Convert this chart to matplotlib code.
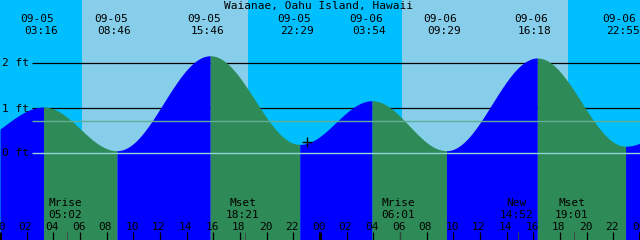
import numpy as np
import matplotlib
matplotlib.use("Agg")
import matplotlib.pyplot as plt
from matplotlib.transforms import blended_transform_factory

# ---------------- data ----------------
title = "Waianae, Oahu Island, Hawaii"
# tide extremes: hours since 09-05 00:00, heights (ft); first/last are off-chart
tide_hours = [-2.5, 3 + 16/60, 8 + 46/60, 15 + 46/60, 22 + 29/60,
              24 + 3 + 54/60, 24 + 9 + 29/60, 24 + 16 + 18/60, 24 + 22 + 55/60, 24 + 29.5]
tide_heights = [0.20, 1.01, 0.04, 2.15, 0.18, 1.15, 0.04, 2.10, 0.14, 1.20]
tide_dates = ["", "09-05", "09-05", "09-05", "09-05", "09-06", "09-06", "09-06", "09-06", ""]
tide_labels = ["", "03:16", "08:46", "15:46", "22:29", "03:54", "09:29", "16:18", "22:55", ""]

sunrise_hours = [6.15, 30.15]
sunset_hours = [18.6, 42.6]

moon_hours = [5 + 2/60, 18 + 21/60, 24 + 6 + 1/60, 24 + 14 + 52/60, 24 + 19 + 1/60]
moon_names = ["Mrise", "Mset", "Mrise", "New", "Mset"]
moon_labels = ["05:02", "18:21", "06:01", "14:52", "19:01"]

ref_levels = [2, 1, 0]
ref_labels = ["2 ft", "1 ft", "0 ft"]
msl_level = 0.71
now_hour = 23.05

hour_ticks = list(range(0, 49, 2))
hour_tick_labels = ["%02d" % (h % 24) for h in hour_ticks]

# ---------------- layout ----------------
W, H = 640, 240
PX_PER_H = W / 48.0
PX_PER_FT = 45.0
ZERO_ROW = 152.5
COL_NIGHT = "#00BFFF"
COL_DAY = "#87CEEB"
COL_FLOOD = "#0000FF"
COL_EBB = "#2E8B57"
FONT = "DejaVu Sans Mono"
FS = 8

fig = plt.figure(figsize=(6.4, 2.4), dpi=100)
ax = fig.add_axes([0, 0, 1, 1])
ax.set_xlim(0, 48)
ax.set_ylim((ZERO_ROW - H) / PX_PER_FT, ZERO_ROW / PX_PER_FT)
ax.axis("off")
ax.set_facecolor(COL_NIGHT)
fig.patch.set_facecolor(COL_NIGHT)

def fig_px(x, y):
    return x / W, 1 - y / H

# background: night / day
ax.axvspan(0, 48, color=COL_NIGHT, zorder=0, lw=0)
for sr, ss in zip(sunrise_hours, sunset_hours):
    ax.axvspan(sr, ss, color=COL_DAY, zorder=0.5, lw=0)

# black reference lines (behind tide)
x_start = 32 / PX_PER_H
for lvl in ref_levels[:2]:
    ax.hlines(lvl, x_start, 48, color="black", lw=0.9, zorder=1)

# tide curve (cosine interpolation between extremes)
def tide_at(t):
    th = np.array(tide_hours); hh = np.array(tide_heights)
    i = np.clip(np.searchsorted(th, t) - 1, 0, len(th) - 2)
    f = (t - th[i]) / (th[i + 1] - th[i])
    return hh[i] + (hh[i + 1] - hh[i]) * (1 - np.cos(np.pi * f)) / 2

bottom = ax.get_ylim()[0]
for i in range(len(tide_hours) - 1):
    a, b = max(tide_hours[i], 0), min(tide_hours[i + 1], 48)
    if b <= a:
        continue
    t = np.linspace(a, b, 400)
    col = COL_FLOOD if tide_heights[i + 1] > tide_heights[i] else COL_EBB
    ax.fill_between(t, bottom, tide_at(t), color=col, lw=0, zorder=2)

# lines above the tide
ax.hlines(msl_level, x_start, 48, color="#5fae98", lw=1.0, zorder=3)
ax.hlines(0, x_start, 48, color="#90d4d8", lw=1.0, zorder=3)

# left labels
for lvl, lab in zip(ref_levels, ref_labels):
    py = ZERO_ROW - lvl * PX_PER_FT
    fig.text(*fig_px(1.5, py + 4), lab, fontsize=FS, family=FONT,
             ha="left", va="baseline", color="black")

# now marker
ax.plot([now_hour], [tide_at(np.array([now_hour]))[0] + 0.03], marker="+",
        color="black", ms=7, mew=1.0, zorder=5)

# title
fig.text(*fig_px(319, 9.5), title, fontsize=FS, family=FONT, ha="center",
         va="baseline", color="black")

# tide time labels at top
for t, d, l in zip(tide_hours, tide_dates, tide_labels):
    if not l:
        continue
    px = t * PX_PER_H
    fig.text(*fig_px(px - 6, 21.8), d, fontsize=FS, family=FONT, ha="center",
             va="baseline", color="black")
    fig.text(*fig_px(px - 2.5, 34), l, fontsize=FS, family=FONT, ha="center",
             va="baseline", color="black")

# moon labels at bottom
for t, n, l in zip(moon_hours, moon_names, moon_labels):
    px = t * PX_PER_H
    fig.text(*fig_px(px - 2, 206.2), n, fontsize=FS, family=FONT, ha="center",
             va="baseline", color="black")
    fig.text(*fig_px(px - 2, 218.3), l, fontsize=FS, family=FONT, ha="center",
             va="baseline", color="black")

# hour ticks
btrans = blended_transform_factory(ax.transData, ax.transAxes)
tick_len = 8.5 / H
for h, lab in zip(hour_ticks, hour_tick_labels):
    lw = 2.2 if h % 24 == 0 else 0.9
    ax.vlines(h, 0, tick_len, color="black", lw=lw, transform=btrans, zorder=6)
    fig.text(*fig_px(h * PX_PER_H - 1.2, 230), lab, fontsize=FS, family=FONT,
             ha="center", va="baseline", color="black")
for t in moon_hours:
    ax.vlines(t, 0, tick_len, color="#3a4a40", lw=0.7, transform=btrans, zorder=6)

fig.savefig("out.png", dpi=100, facecolor=fig.get_facecolor())
